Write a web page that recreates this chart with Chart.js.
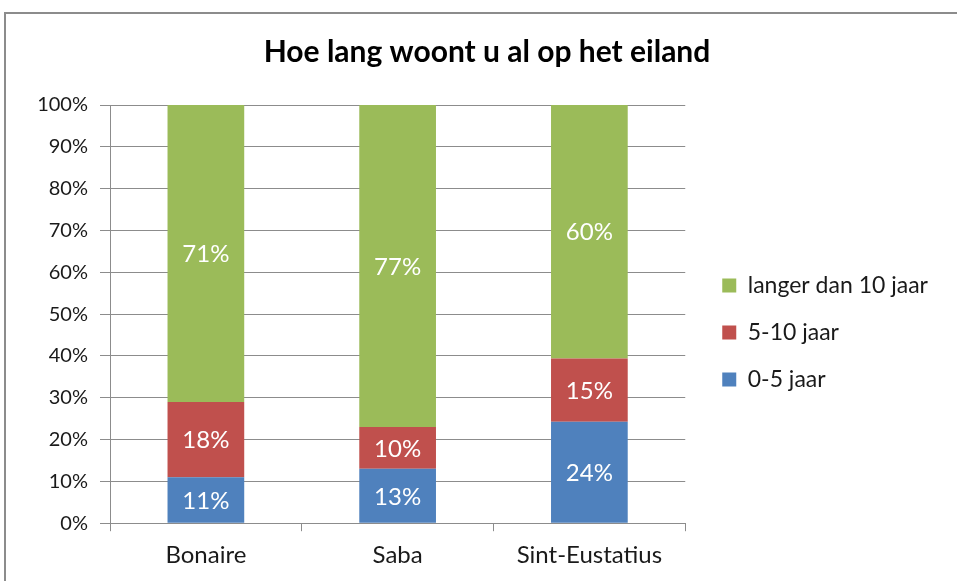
<!DOCTYPE html>
<html>
<head>
<meta charset="utf-8">
<script src="https://cdn.jsdelivr.net/npm/chart.js@4.4.1/dist/chart.umd.min.js"></script>
<style>
  html, body { margin: 0; padding: 0; background: #fff; overflow: hidden; }
  #wrap { width: 957px; height: 581px; }
</style>
</head>
<body>
<div id="wrap"><canvas id="chart" width="957" height="581"></canvas></div>
<script>
const islands = ["Bonaire", "Saba", "Sint-Eustatius"];
const shortStay = [11, 13, 24];   // 0-5 jaar
const midStay = [18, 10, 15];     // 5-10 jaar
const longStay = [71, 77, 60];    // langer dan 10 jaar
const seriesNames = ["0-5 jaar", "5-10 jaar", "langer dan 10 jaar"];
const seriesColors = ["#4F81BD", "#C0504D", "#9BBB59"];
const yTicks = [0, 10, 20, 30, 40, 50, 60, 70, 80, 90, 100];

// 100% stacked: scale each column to its total
const totals = islands.map((_, i) => shortStay[i] + midStay[i] + longStay[i]);
const share = arr => arr.map((v, i) => v / totals[i] * 100);

const datasets = [shortStay, midStay, longStay].map((arr, k) => ({
  label: seriesNames[k],
  data: share(arr),
  raw: arr,
  backgroundColor: seriesColors[k],
  barPercentage: 0.4,
  categoryPercentage: 1
}));

const grey = "#8c8c8c";
const font = "Lato";
const txt = "#1a1a1a";

// white percentage labels in the middle of each segment
const segLabels = {
  id: "segLabels",
  afterDatasetsDraw(chart) {
    const ctx = chart.ctx;
    ctx.save();
    ctx.fillStyle = "#fff";
    ctx.font = "24px " + font;
    ctx.textAlign = "center";
    ctx.textBaseline = "middle";
    chart.data.datasets.forEach((ds, i) => {
      chart.getDatasetMeta(i).data.forEach((bar, j) => {
        const p = bar.getProps(["x", "y", "base"], true);
        ctx.fillText(ds.raw[j] + "%", p.x, (p.y + p.base) / 2 + 1);
      });
    });
    ctx.restore();
  }
};

// the grey frame around the chart
const frame = {
  id: "frame",
  beforeDraw(chart) {
    const ctx = chart.ctx;
    ctx.save();
    ctx.strokeStyle = grey;
    ctx.lineWidth = 2;
    ctx.strokeRect(5, 13, 1200, 1200);
    ctx.restore();
  }
};

// nudge legend a bit right of the plot, centre title on the frame
const nudge = {
  id: "nudge",
  afterLayout(chart) {
    chart.legend.left += 13;
    chart.legend.right = chart.width;
    const t = chart.titleBlock;
    const w = t.right - t.left;
    t.left = 487 - w / 2;
    t.right = 487 + w / 2;
  }
};

new Chart(document.getElementById("chart"), {
  type: "bar",
  data: { labels: islands, datasets: datasets },
  plugins: [frame, segLabels, nudge],
  options: {
    responsive: false,
    animation: false,
    layout: { padding: { left: 20, right: 50, top: 0, bottom: 1 } },
    plugins: {
      title: {
        display: true,
        text: "Hoe lang woont u al op het eiland",
        color: "#000",
        font: { family: font, size: 30, weight: "bold" },
        padding: { top: 34, bottom: 35 }
      },
      legend: {
        position: "right",
        reverse: true,
        title: { display: true, text: " ", font: { size: 1 }, padding: { top: 84, bottom: 0 } },
        labels: {
          boxWidth: 14,
          boxHeight: 14,
          padding: 24,
          color: txt,
          font: { family: font, size: 23 }
        }
      },
      tooltip: { enabled: false }
    },
    scales: {
      x: {
        stacked: true,
        grid: { drawOnChartArea: false, color: grey, tickLength: 8 },
        border: { color: grey },
        ticks: { color: txt, font: { family: font, size: 24 }, padding: 10 }
      },
      y: {
        stacked: true,
        min: 0,
        max: 100,
        afterFit: s => { s.width = 90; },
        afterBuildTicks: s => { s.ticks = yTicks.map(v => ({ value: v })); },
        grid: { color: grey, tickLength: 10 },
        border: { color: grey },
        ticks: {
          color: txt,
          font: { family: font, size: 20 },
          padding: 12,
          callback: v => v + "%"
        }
      }
    }
  }
});
</script>
</body>
</html>
